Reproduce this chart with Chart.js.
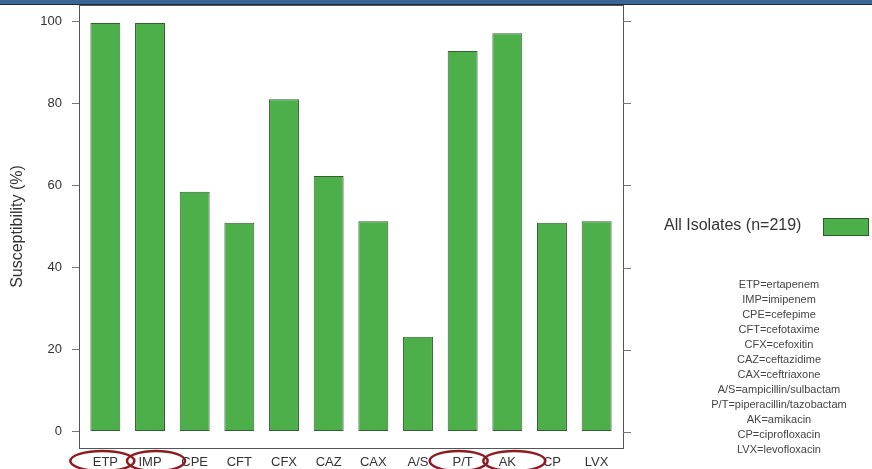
<!DOCTYPE html>
<html>
<head>
<meta charset="utf-8">
<script src="https://cdn.jsdelivr.net/npm/chart.js@4/dist/chart.umd.min.js"></script>
<style>
  body { margin: 0; background: #fff; font-family: "Liberation Sans", Arial, sans-serif; }
  #wrap { position: relative; width: 872px; height: 469px; overflow: hidden; }
  #band { position: absolute; left: 0; top: 0; width: 872px; height: 4px; background: #3b6597; border-bottom: 1px solid #1c2c44; }
  #legend { position: absolute; left: 664px; top: 216px; font-size: 16px; color: #333; white-space: nowrap; }
  #legend span.box { position: absolute; left: 159px; top: 2px; width: 44px; height: 16px; background: #4daf4a; border: 1px solid #2f5a2f; }
  #abbr { position: absolute; left: 699px; width: 160px; top: 277px; text-align: center; font-size: 11px; line-height: 15px; color: #444; }
</style>
</head>
<body>
<div id="wrap">
  <canvas id="c" width="872" height="469"></canvas>
  <div id="band"></div>
  <div id="legend">All Isolates (n=219)<span class="box"></span></div>
  <div id="abbr"></div>
</div>
<script>
/* ---------- Data ---------- */
const categories = ["ETP", "IMP", "CPE", "CFT", "CFX", "CAZ", "CAX", "A/S", "P/T", "AK", "CP", "LVX"];
const susceptibility = [99.6, 99.6, 58.5, 50.9, 81.0, 62.3, 51.3, 23.1, 92.8, 97.1, 50.9, 51.3];
const yTicks = [0, 20, 40, 60, 80, 100];
const seriesLabel = "All Isolates (n=219)";
const abbreviations = [
  "ETP=ertapenem", "IMP=imipenem", "CPE=cefepime", "CFT=cefotaxime", "CFX=cefoxitin",
  "CAZ=ceftazidime", "CAX=ceftriaxone", "A/S=ampicillin/sulbactam",
  "P/T=piperacillin/tazobactam", "AK=amikacin", "CP=ciprofloxacin", "LVX=levofloxacin"
];
// categories circled in red on the slide: [index, x nudge, half width]
const circled = [[0, -3, 32], [1, 6, 29], [8, -4, 29], [9, 7, 31]];

document.getElementById("abbr").innerHTML = abbreviations.join("<br>");

/* ---------- Plugins ---------- */
const boxPlugin = {
  id: "box",
  afterDraw(chart) {
    const { ctx, chartArea: a } = chart;
    const y = chart.scales.y;
    ctx.save();
    ctx.strokeStyle = "#555";
    ctx.lineWidth = 1;
    ctx.strokeRect(a.left + 0.5, a.top + 0.5, a.right - a.left, a.bottom - a.top);
    ctx.strokeStyle = "#777";
    yTicks.forEach(v => {
      const py = Math.round(y.getPixelForValue(v)) + 0.5;
      ctx.beginPath();
      ctx.moveTo(a.right, py);
      ctx.lineTo(a.right + 8, py);
      ctx.stroke();
    });
    // red ellipses around highlighted labels
    const x = chart.scales.x;
    ctx.strokeStyle = "#8e1b22";
    ctx.lineWidth = 2.5;
    circled.forEach(([i, dx, rx]) => {
      ctx.beginPath();
      ctx.ellipse(x.getPixelForValue(i) + dx, 461, rx, 10, 0, 0, Math.PI * 2);
      ctx.stroke();
    });
    ctx.restore();
  }
};

const noPad = s => { s.paddingTop = 0; s.paddingBottom = 0; s.paddingLeft = 0; s.paddingRight = 0; };

/* ---------- Chart ---------- */
new Chart(document.getElementById("c"), {
  type: "bar",
  data: {
    datasets: [{
      label: seriesLabel,
      data: susceptibility.map((v, i) => ({ x: i, y: v })),
      backgroundColor: "#4daf4a",
      borderColor: "#355e35",
      borderWidth: 1,
      borderSkipped: false,
      categoryPercentage: 1,
      barPercentage: 0.67
    }]
  },
  options: {
    responsive: false,
    animation: false,
    layout: { padding: { top: 5, right: 249, left: 0, bottom: 0 } },
    plugins: { legend: { display: false }, tooltip: { enabled: false } },
    scales: {
      x: {
        type: "linear",
        offset: false,
        min: -0.59,
        max: 11.59,
        afterBuildTicks: s => { s.ticks = categories.map((_, i) => ({ value: i })); },
        afterFit: s => { s.height = 21; noPad(s); },
        grid: { display: false, drawTicks: false },
        border: { display: false },
        ticks: {
          autoSkip: false, maxRotation: 0, padding: 7,
          color: "#333", font: { size: 13, family: "Liberation Sans" },
          callback: v => categories[v]
        }
      },
      y: {
        min: -4,
        max: 104,
        afterBuildTicks: s => { s.ticks = yTicks.map(v => ({ value: v })); },
        afterFit: s => { s.width = 79; noPad(s); },
        grid: { drawOnChartArea: false, tickLength: 7, color: "#777" },
        border: { display: false },
        ticks: { padding: 10, color: "#333", font: { size: 13, family: "Liberation Sans" } },
        title: {
          display: true, text: "Susceptibility (%)", color: "#333",
          font: { size: 16, family: "Liberation Sans" }, padding: { top: 8, bottom: 0 }
        }
      }
    }
  },
  plugins: [boxPlugin]
});
</script>
</body>
</html>
